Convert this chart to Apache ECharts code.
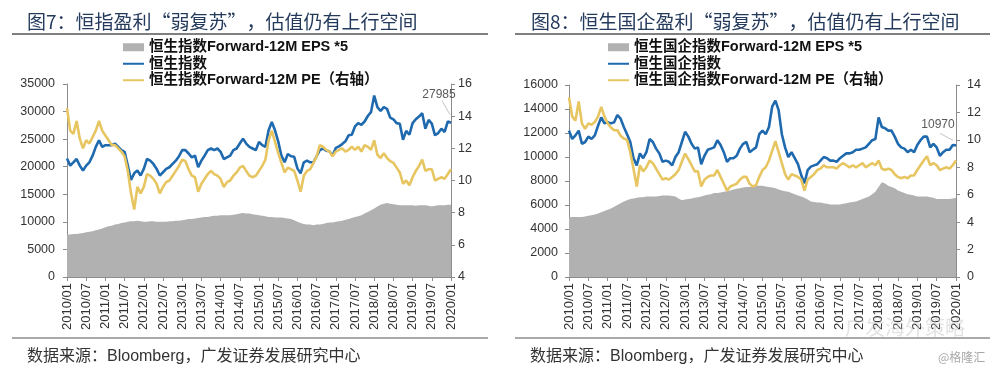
<!DOCTYPE html>
<html>
<head>
<meta charset="utf-8">
<script src="https://cdn.jsdelivr.net/npm/echarts@6/dist/echarts.min.js"></script>
<style>
html,body{margin:0;padding:0;background:#fff;}
#c{width:1000px;height:372px;}
</style>
</head>
<body>
<div id="c"></div>
<script>
// ---- categories (monthly, 2010/01 .. 2020/01)
var categories = [];
for (var y = 2010; y <= 2020; y++) {
  for (var m = 1; m <= 12; m++) {
    if (y === 2020 && m > 1) break;
    categories.push(y + '/' + (m < 10 ? '0' + m : m));
  }
}

// ---- Chart 7: Hang Seng Index
var hsiIndex = [
21500,20200,20800,21400,20200,19300,20200,20800,22000,23600,24800,23600,
23900,23900,23900,24200,23600,23000,22700,20200,17600,18800,19300,18400,
19600,21400,21100,20500,19600,18400,19000,19600,19900,20500,21100,21900,
23000,23000,22400,21700,22000,19900,21100,22000,23000,23300,23000,23300,
22700,21400,21700,22000,23000,23300,24200,25100,24200,23600,23300,23000,
24500,23900,23600,26600,28100,26600,24600,22000,20800,22300,21900,21800,
19700,18800,20800,21100,20800,20800,21900,23000,23300,22900,22800,22000,
23400,23700,24100,24600,25700,25800,27300,27900,27600,28200,29200,29900,
32900,30800,30100,30800,30500,28900,28600,27900,27800,24900,26500,25800,
27900,28600,29100,29700,26900,28500,27800,25700,26100,26900,26300,28200,27985
];
var hsiEps5 = [
7700,7700,7800,7800,7900,8000,8100,8200,8300,8500,8600,8800,
9000,9200,9300,9500,9600,9800,9900,10000,10100,10100,10200,10100,
10000,10000,10100,10100,10000,10000,10000,10000,10100,10100,10200,10200,
10300,10400,10500,10500,10600,10700,10800,10900,10900,11000,11100,11100,
11200,11200,11200,11200,11300,11400,11500,11600,11500,11500,11400,11300,
11200,11100,11000,10900,10900,10800,10800,10800,10700,10600,10500,10300,
10000,9800,9600,9500,9500,9400,9500,9500,9600,9800,9900,9900,
10000,10100,10200,10400,10500,10700,10900,11000,11200,11500,11800,12100,
12400,12800,13100,13300,13400,13300,13200,13100,13000,13000,13000,13000,
13000,12900,13000,13000,13000,12900,12800,12900,13000,13000,13000,13100,13100
];
var hsiPe = [
14.5,13.1,12.9,13.7,12.6,12.0,12.5,12.3,12.7,13.1,13.7,13.1,
12.8,12.5,12.2,12.2,12.0,11.8,11.5,10.6,9.2,8.2,9.6,9.2,
9.6,10.4,10.3,10.1,9.8,9.2,9.6,9.9,10.0,10.3,10.6,10.9,
11.3,11.2,10.7,10.3,10.2,9.3,9.8,10.1,10.4,10.6,10.4,10.3,
10.1,9.6,9.9,10.0,10.3,10.5,10.8,10.9,10.6,10.3,10.2,10.3,
10.6,10.9,11.3,12.5,13.1,12.4,11.7,11.1,10.5,10.8,10.7,10.6,
10.0,9.3,10.3,10.6,10.7,11.1,11.5,12.2,12.1,11.9,11.8,11.5,
11.8,11.9,12.0,11.8,11.9,12.1,11.9,12.1,11.8,12.2,12.1,11.9,
12.5,11.6,11.4,11.7,11.4,11.2,11.1,10.8,10.5,9.8,10.0,9.7,
10.2,10.6,10.9,11.3,10.6,10.7,10.7,10.0,10.1,10.2,10.1,10.4,10.7
];

// ---- Chart 8: Hang Seng China Enterprises Index
var hsceiIndex = [
12200,11500,11800,12200,11100,11250,11700,11500,11800,12600,13300,12800,
12900,12800,12900,13500,13200,12500,11900,11250,9900,9300,10300,9900,
10400,11500,11250,10700,10300,9600,9700,9600,9300,10000,10400,11250,
12100,11700,11100,10700,10800,9400,10100,10600,10700,10800,11400,11000,
10400,9600,9900,9900,10100,10700,11100,11250,10400,10600,10800,11900,
12200,11900,12500,14200,14700,13900,11900,10800,10000,10400,9900,9400,
8500,7800,8900,9200,9300,9400,9700,10000,9900,9700,9700,9600,
9900,10100,10300,10300,10400,10600,10600,10700,10800,11100,11400,11500,
13300,12500,12400,12200,12200,11700,11100,10800,10700,10400,10600,10400,
11000,11400,11700,11700,10800,11100,10800,10100,10400,10600,10600,11000,10970
];
var hsceiEps5 = [
5000,5000,5000,5000,5000,5050,5100,5150,5200,5300,5400,5500,
5600,5700,5850,6000,6150,6300,6400,6500,6550,6600,6650,6650,
6700,6700,6700,6700,6750,6800,6800,6800,6750,6700,6550,6400,
6450,6500,6550,6600,6650,6700,6800,6850,6900,7000,7000,7050,
7100,7150,7200,7300,7350,7400,7450,7500,7500,7550,7600,7600,
7600,7550,7500,7450,7400,7300,7200,7150,7100,7000,6900,6800,
6700,6600,6450,6300,6250,6200,6200,6150,6100,6050,6050,6050,
6050,6100,6150,6200,6250,6300,6400,6500,6600,6700,6900,7100,
7500,7900,7800,7600,7500,7400,7200,7100,7000,6900,6850,6800,
6700,6700,6700,6700,6650,6600,6500,6500,6500,6500,6500,6550,6600
];
var hsceiPe = [
13.1,11.7,11.4,12.8,11.2,10.8,11.2,11.1,11.3,11.7,12.4,11.7,
11.2,10.9,10.7,10.7,10.3,10.1,10.0,9.1,7.9,6.6,8.15,7.7,
8.0,8.5,8.3,7.9,7.5,7.1,7.2,7.1,7.3,7.5,7.8,8.4,
9.0,8.6,8.15,7.7,7.7,6.6,7.1,7.3,7.4,7.4,7.8,7.3,
6.8,6.3,6.6,6.7,6.8,7.1,7.3,7.3,6.8,6.6,6.7,7.3,
7.8,8.0,8.5,9.2,9.9,9.1,8.3,7.5,7.1,7.5,7.4,7.3,
7.1,6.3,7.1,7.3,7.5,7.8,7.9,8.15,8.0,8.0,8.0,7.9,
8.15,8.3,8.15,8.0,8.15,8.0,8.15,8.3,8.0,8.15,8.3,8.15,
8.5,7.9,7.8,7.9,7.8,7.5,7.3,7.2,7.3,7.2,7.4,7.4,
7.8,8.15,8.5,8.8,8.15,8.3,8.15,7.8,7.9,8.0,7.9,8.15,8.5
];

var names7 = ['恒生指数Forward-12M EPS *5', '恒生指数', '恒生指数Forward-12M PE（右轴）'];
var names8 = ['恒生国企指数Forward-12M EPS *5', '恒生国企指数', '恒生国企指数Forward-12M PE（右轴）'];
var titles = ['图7：恒指盈利“弱复苏”，估值仍有上行空间', '图8：恒生国企盈利“弱复苏”，估值仍有上行空间'];
var sourceText = '数据来源：Bloomberg，广发证券发展研究中心';

var GRAY = '#b1b1b1', BLUE = '#1f69ae', YELLOW = '#e7c561', AXIS = '#8c8c8c';
var FONT = "'Liberation Sans', 'Noto Sans CJK SC', sans-serif";
var CJKFONT = "'Noto Sans CJK SC', 'Liberation Sans', sans-serif";

function lastPointMark(arr, offset) {
  var i = arr.length - 1;
  return {
    silent: true,
    symbol: 'circle', symbolSize: 1,
    itemStyle: { color: 'rgba(0,0,0,0)' },
    label: { show: true, position: 'inside', offset: offset, formatter: '{c}', color: '#595959', fontSize: 12, fontFamily: FONT },
    data: [{ coord: [categories[i], arr[i]], value: arr[i] }]
  };
}

function xAxis(gi) {
  return {
    type: 'category', gridIndex: gi, data: categories, boundaryGap: false,
    axisLine: { lineStyle: { color: AXIS, width: 1 } },
    axisTick: { interval: 5, length: 4, lineStyle: { color: AXIS } },
    axisLabel: { interval: 5, rotate: 90, fontSize: 13, color: '#333', fontFamily: FONT, margin: 6 },
    splitLine: { show: false }
  };
}
function yAxis(gi, pos, min, max, interval, margin) {
  return {
    type: 'value', gridIndex: gi, position: pos, min: min, max: max, interval: interval,
    axisLine: { show: true, lineStyle: { color: AXIS } },
    axisTick: { show: true, length: 4, lineStyle: { color: AXIS } },
    axisLabel: { fontSize: 12.5, color: '#333', fontFamily: FONT, margin: margin,
      formatter: function (v) { return String(v); } },
    splitLine: { show: false }
  };
}
function legend(left, names) {
  return {
    left: left, top: 40, padding: 0, orient: 'vertical', itemWidth: 21, itemHeight: 8, itemGap: 2,
    textStyle: { fontSize: 14.5, fontWeight: 'bold', color: '#111', fontFamily: FONT, lineHeight: 14 },
    data: [
      { name: names[0], icon: 'rect' },
      { name: names[1], itemStyle: { opacity: 0 } },
      { name: names[2], itemStyle: { opacity: 0 } }
    ]
  };
}

var option = {
  animation: false,
  backgroundColor: '#fff',
  title: [
    { text: titles[0], left: 22, top: 7, textStyle: { fontSize: 19, fontWeight: 'normal', color: '#243a5c', fontFamily: CJKFONT } },
    { text: titles[1], left: 526, top: 7, textStyle: { fontSize: 19, fontWeight: 'normal', color: '#243a5c', fontFamily: CJKFONT } },
    { text: sourceText, left: 22, top: 344, textStyle: { fontSize: 16, fontWeight: 'normal', color: '#333', fontFamily: FONT } },
    { text: sourceText, left: 525, top: 344, textStyle: { fontSize: 16, fontWeight: 'normal', color: '#333', fontFamily: FONT } },
    { text: '@格隆汇', left: 933, top: 346, textStyle: { fontSize: 12, fontWeight: 'normal', color: '#a8a8a8', fontFamily: CJKFONT } },
    { text: '广发海外策略', left: 840, top: 312, textStyle: { fontSize: 20, fontWeight: 'normal', color: 'rgba(190,190,190,0.45)', fontFamily: CJKFONT } }
  ],
  legend: [legend(122, names7), legend(607, names8)],
  grid: [
    { left: 67, right: 549, top: 84, bottom: 95, containLabel: false },
    { left: 569, right: 44, top: 85, bottom: 95, containLabel: false }
  ],
  xAxis: [xAxis(0), xAxis(1)],
  yAxis: [
    yAxis(0, 'left', 0, 35000, 5000, 12),
    yAxis(0, 'right', 4, 16, 2, 7),
    yAxis(1, 'left', 0, 16000, 2000, 11),
    yAxis(1, 'right', 0, 14, 2, 11)
  ],
  series: [
    { name: names7[0], type: 'line', xAxisIndex: 0, yAxisIndex: 0, data: hsiEps5, symbol: 'none',
      lineStyle: { width: 0, color: GRAY }, itemStyle: { color: GRAY }, areaStyle: { color: GRAY, opacity: 1 } },
    { name: names7[1], type: 'line', xAxisIndex: 0, yAxisIndex: 0, data: hsiIndex, symbol: 'none',
      lineStyle: { width: 2.6, color: BLUE }, itemStyle: { color: BLUE },
      markPoint: lastPointMark(hsiIndex, [-12, -28]) },
    { name: names7[2], type: 'line', xAxisIndex: 0, yAxisIndex: 1, data: hsiPe, symbol: 'none',
      lineStyle: { width: 2.6, color: YELLOW }, itemStyle: { color: YELLOW } },
    { name: names8[0], type: 'line', xAxisIndex: 1, yAxisIndex: 2, data: hsceiEps5, symbol: 'none',
      lineStyle: { width: 0, color: GRAY }, itemStyle: { color: GRAY }, areaStyle: { color: GRAY, opacity: 1 } },
    { name: names8[1], type: 'line', xAxisIndex: 1, yAxisIndex: 2, data: hsceiIndex, symbol: 'none',
      lineStyle: { width: 2.6, color: BLUE }, itemStyle: { color: BLUE },
      markPoint: lastPointMark(hsceiIndex, [-18, -21]) },
    { name: names8[2], type: 'line', xAxisIndex: 1, yAxisIndex: 3, data: hsceiPe, symbol: 'none',
      lineStyle: { width: 2.6, color: YELLOW }, itemStyle: { color: YELLOW } }
  ]
};

var chart = echarts.init(document.getElementById('c'), null, { renderer: 'canvas' });
chart.setOption(option);

// separator rules and annotation leader lines (leaders anchored to the last data points via the library's scales)
var p7 = chart.convertToPixel({ xAxisIndex: 0, yAxisIndex: 0 }, [categories.length - 1, hsiIndex[hsiIndex.length - 1]]);
var p8 = chart.convertToPixel({ xAxisIndex: 1, yAxisIndex: 2 }, [categories.length - 1, hsceiIndex[hsceiIndex.length - 1]]);
chart.setOption({
  graphic: [
    { type: 'line', shape: { x1: 12, y1: 34, x2: 488, y2: 34 }, style: { stroke: '#555', lineWidth: 1.5 } },
    { type: 'line', shape: { x1: 515, y1: 34, x2: 990, y2: 34 }, style: { stroke: '#555', lineWidth: 1.5 } },
    { type: 'line', shape: { x1: 12, y1: 338, x2: 488, y2: 338 }, style: { stroke: '#555', lineWidth: 1 } },
    { type: 'line', shape: { x1: 515, y1: 338, x2: 990, y2: 338 }, style: { stroke: '#555', lineWidth: 1 } },
    { type: 'line', shape: { x1: p7[0] - 9, y1: p7[1] - 22, x2: p7[0] - 1, y2: p7[1] - 8 }, style: { stroke: '#c4c4c4', lineWidth: 1 } },
    { type: 'line', shape: { x1: p8[0] - 16, y1: p8[1] - 12, x2: p8[0] - 3, y2: p8[1] - 5 }, style: { stroke: '#c4c4c4', lineWidth: 1 } }
  ]
});
</script>
</body>
</html>
